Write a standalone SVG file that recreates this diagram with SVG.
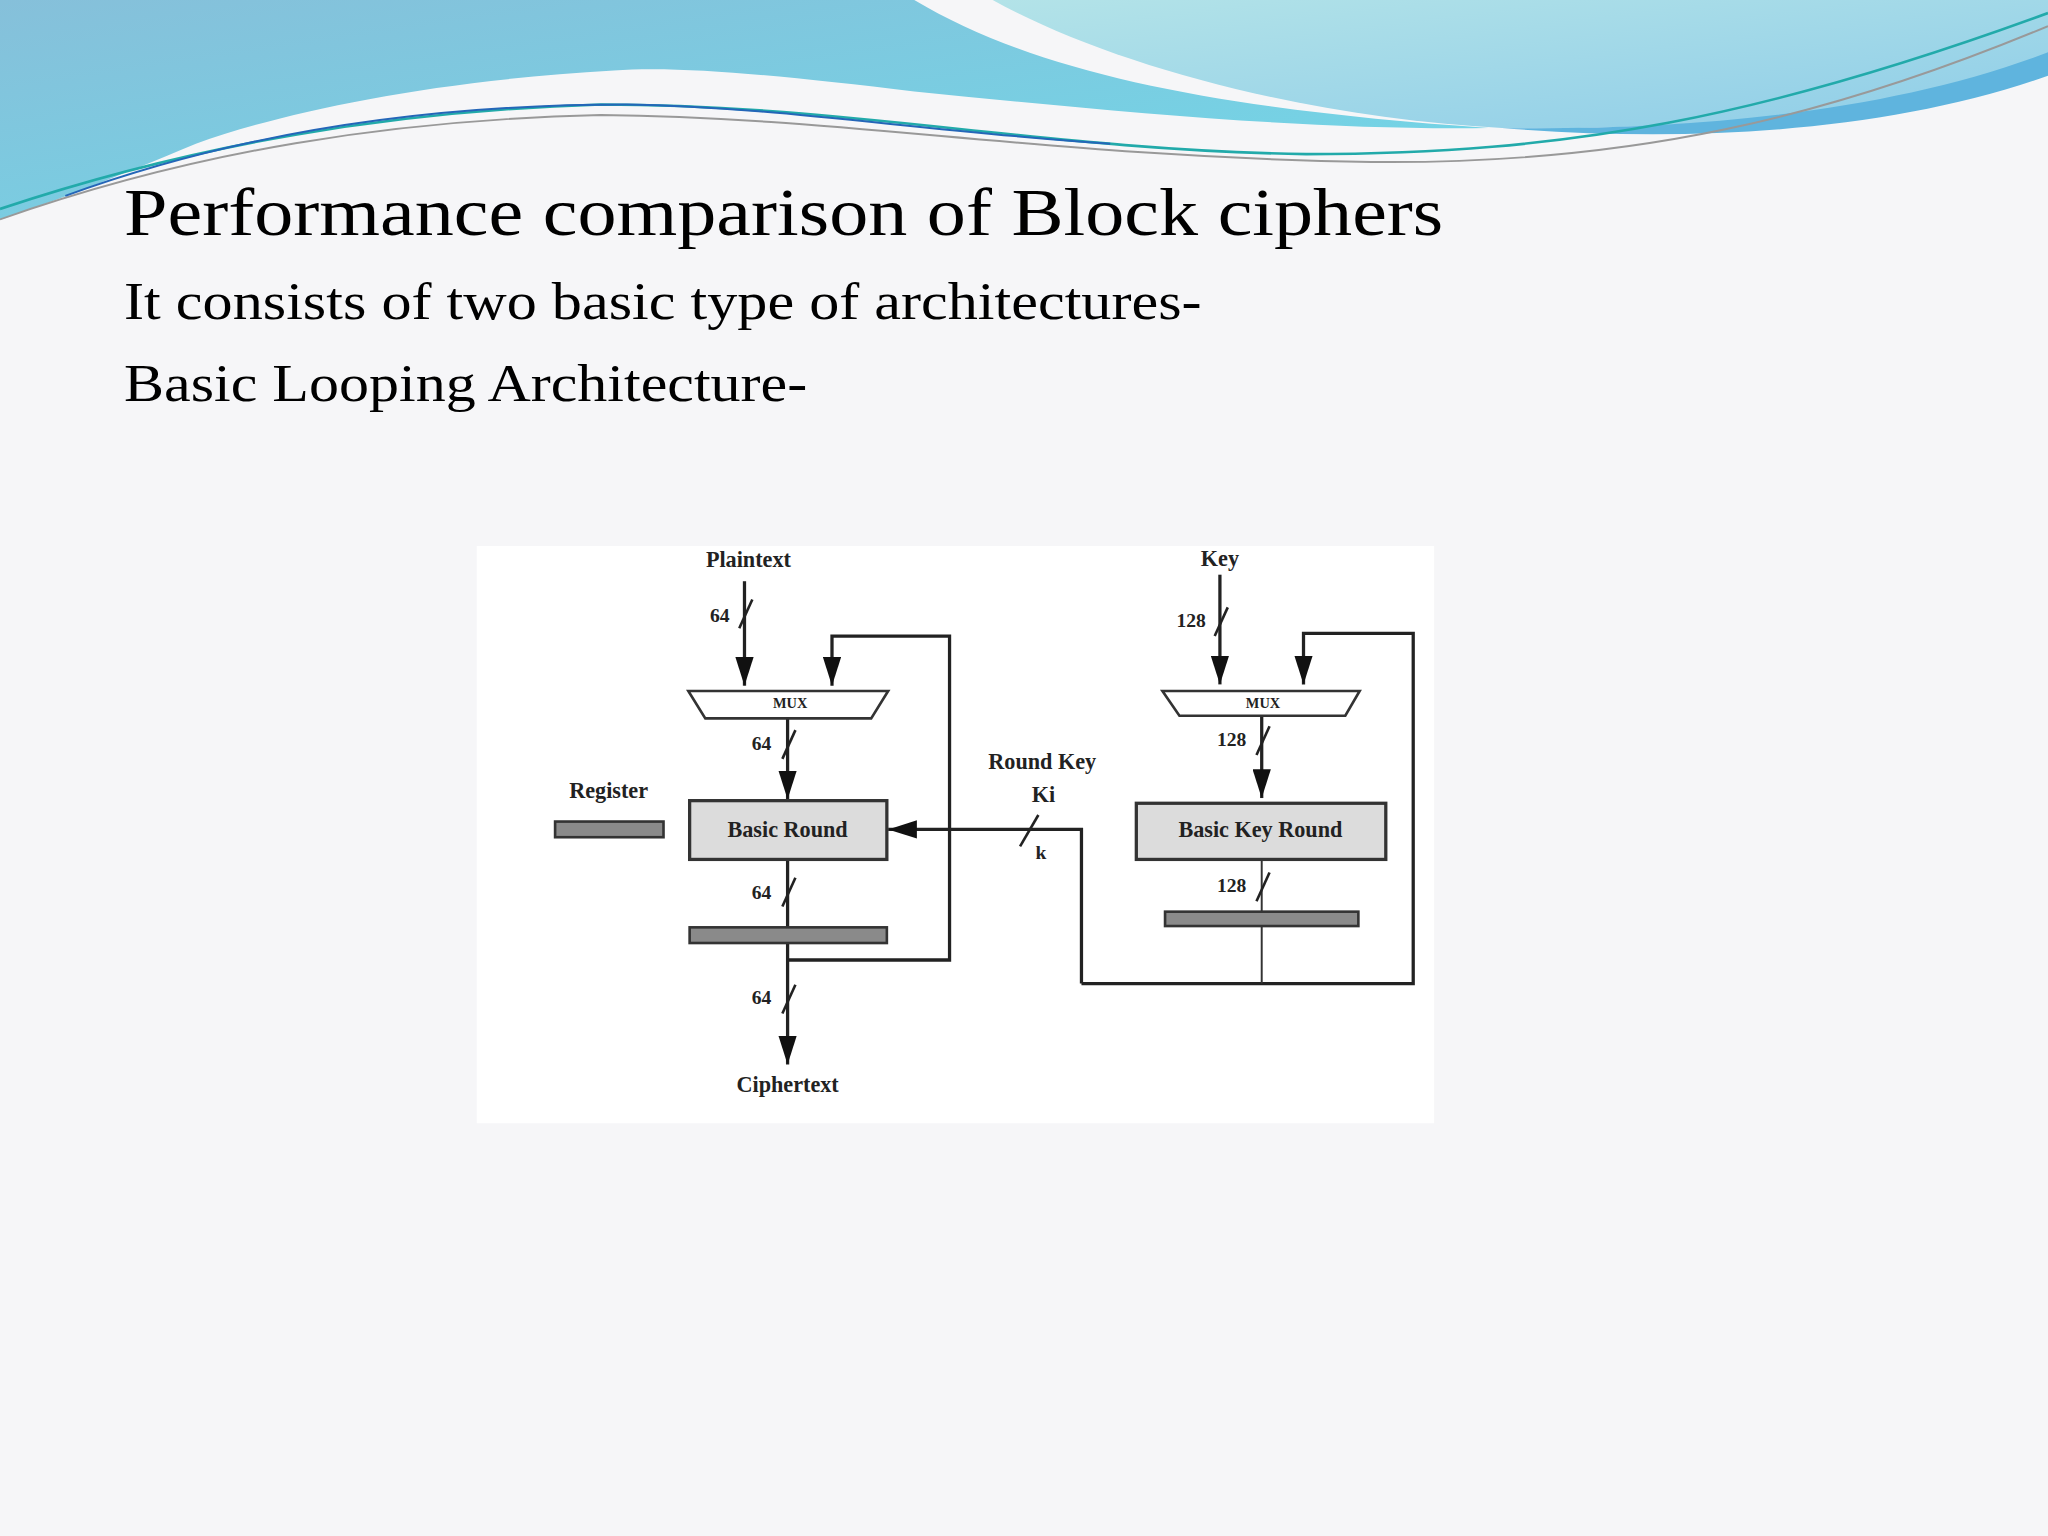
<svg xmlns="http://www.w3.org/2000/svg" width="2048" height="1536" viewBox="0 0 2048 1536">
<style>
.t{font-family:"Liberation Serif","DejaVu Serif",serif;fill:#000}
.d{font-family:"Liberation Serif","DejaVu Serif",serif;font-weight:bold;fill:#222;text-anchor:middle}
.ln{stroke:#222;stroke-width:2.5;fill:none}
.reg{fill:#8a8a8a;stroke:#333;stroke-width:2}
.box{fill:#dcdcdc;stroke:#333;stroke-width:2.5}
</style>
<defs>
<marker id="ah" markerWidth="22" markerHeight="14" refX="22" refY="7" orient="auto" markerUnits="userSpaceOnUse"><path d="M0,0 L22,7 L0,14 Z" fill="#111"/></marker>
<linearGradient id="gl" x1="0" y1="0" x2="1" y2="1"><stop offset="0" stop-color="#86c0da"/><stop offset="1" stop-color="#6fd8e8"/></linearGradient>
<linearGradient id="gr" x1="0" y1="0" x2="1" y2="1"><stop offset="0" stop-color="#b3e3e8"/><stop offset="1" stop-color="#8fcde8"/></linearGradient>
</defs>
<rect width="2048" height="1536" fill="#f6f6f8"/>
<g transform="scale(1.30612)">
<g id="background">
<path d="M0,0 H700 C800,60 950,85 1140,98 C1000,100 850,85 700,70 C600,58 520,50 470,54 C330,62 220,85 150,110 C90,135 40,155 0,168 Z" fill="url(#gl)"/>
<path d="M760,0 H1568 V55 C1450,85 1300,100 1150,98 C1000,90 850,50 760,0 Z" fill="url(#gr)"/>
<path d="M1150,98 C1300,100 1450,85 1568,40 V58 C1450,100 1300,110 1150,98 Z" fill="#5fb4de"/>
<path d="M0,160 C150,110 300,85 460,80 C650,80 800,115 1000,118 C1200,118 1350,90 1568,10" stroke="#2aa" stroke-width="2" fill="none"/>
<path d="M0,168 C150,115 300,92 460,88 C650,90 800,120 1050,124 C1250,126 1400,90 1568,20" stroke="#999" stroke-width="1.5" fill="none"/>
<path d="M50,150 C200,95 350,80 480,80 C600,82 700,100 850,110" stroke="#2466b8" stroke-width="1.5" fill="none"/>
</g>
<g id="texts">
<text class="t" x="95" y="180" font-size="52" textLength="1010" lengthAdjust="spacingAndGlyphs">Performance comparison of Block ciphers</text>
<text class="t" x="95" y="244" font-size="40" textLength="825" lengthAdjust="spacingAndGlyphs">It consists of two basic type of architectures-</text>
<text class="t" x="95" y="307" font-size="40" textLength="523" lengthAdjust="spacingAndGlyphs">Basic Looping Architecture-</text>
</g>
<rect x="365" y="418" width="733" height="442" fill="#ffffff"/>
<g id="connectors">
<line class="ln" x1="570" y1="445" x2="570" y2="525" marker-end="url(#ah)"/>
<polyline class="ln" points="603,735 727,735 727,487 637,487 637,525" marker-end="url(#ah)"/>
<line class="ln" x1="603" y1="550" x2="603" y2="612" marker-end="url(#ah)"/>
<line class="ln" x1="603" y1="658" x2="603" y2="815" marker-end="url(#ah)"/>
<line class="ln" x1="934" y1="440" x2="934" y2="524" marker-end="url(#ah)"/>
<polyline class="ln" points="828,753 1082,753 1082,485 998,485 998,524" marker-end="url(#ah)"/>
<line class="ln" x1="966" y1="548" x2="966" y2="611" marker-end="url(#ah)"/>
<polyline class="ln" points="828,753 828,635 680,635" marker-end="url(#ah)"/>
<line x1="966" y1="658" x2="966" y2="753" stroke="#333" stroke-width="1.5"/>
<g stroke="#222" stroke-width="2">
<line x1="566" y1="481" x2="576" y2="459"/>
<line x1="599" y1="581" x2="609" y2="559"/>
<line x1="599" y1="694" x2="609" y2="672"/>
<line x1="599" y1="776" x2="609" y2="754"/>
<line x1="930" y1="487" x2="940" y2="465"/>
<line x1="962" y1="578" x2="972" y2="556"/>
<line x1="962" y1="690" x2="972" y2="668"/>
<line x1="781" y1="648" x2="795" y2="624"/>
</g>
<g class="d" font-size="15">
<text x="551" y="476">64</text><text x="583" y="574">64</text><text x="583" y="688">64</text><text x="583" y="769">64</text>
<text x="912" y="480">128</text><text x="943" y="571">128</text><text x="943" y="683">128</text>
<text x="797" y="658">k</text>
</g>
</g>
<g id="plaintext"><text class="d" x="573" y="434" font-size="17">Plaintext</text></g>
<g id="key"><text class="d" x="934" y="433" font-size="17">Key</text></g>
<g id="mux1"><path d="M527,529 H680 L667,550 H540 Z" fill="#fff" stroke="#333" stroke-width="2"/><text class="d" x="605" y="542" font-size="11">MUX</text></g>
<g id="mux2"><path d="M890,529 H1041 L1030,548 H903 Z" fill="#fff" stroke="#333" stroke-width="2"/><text class="d" x="967" y="542" font-size="11">MUX</text></g>
<g id="register-legend"><text class="d" x="466" y="611" font-size="17">Register</text><rect class="reg" x="425" y="629" width="83" height="12"/></g>
<g id="basic-round"><rect class="box" x="528" y="613" width="151" height="45"/><text class="d" x="603" y="641" font-size="17">Basic Round</text></g>
<g id="basic-key-round"><rect class="box" x="870" y="615" width="191" height="43"/><text class="d" x="965" y="641" font-size="17">Basic Key Round</text></g>
<g id="register1"><rect class="reg" x="528" y="710" width="151" height="12"/></g>
<g id="register2"><rect class="reg" x="892" y="698" width="148" height="11"/></g>
<g id="round-key"><text class="d" x="798" y="589" font-size="17">Round Key</text><text class="d" x="799" y="614" font-size="17">Ki</text></g>
<g id="ciphertext"><text class="d" x="603" y="836" font-size="17">Ciphertext</text></g>
</g>
</svg>
